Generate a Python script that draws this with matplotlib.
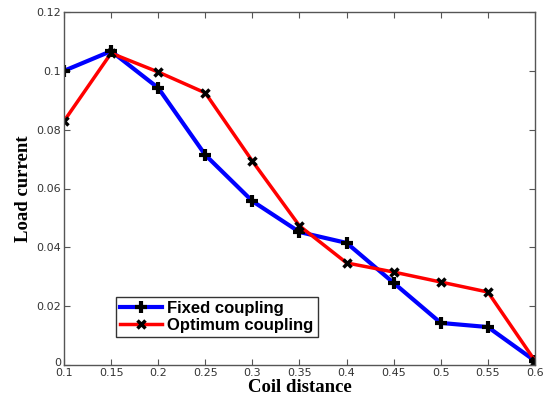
import matplotlib
matplotlib.use("Agg")
import matplotlib.pyplot as plt
import matplotlib.transforms as mtransforms

x = [0.1, 0.15, 0.2, 0.25, 0.3, 0.35, 0.4, 0.45, 0.5, 0.55, 0.6]
fixed = [0.1000, 0.1067, 0.0942, 0.0714, 0.0557, 0.0452, 0.0415, 0.0279, 0.0143, 0.0129, 0.0014]
optimum = [0.0829, 0.1060, 0.0996, 0.0925, 0.0693, 0.0473, 0.0347, 0.0316, 0.0282, 0.0248, 0.0014]
xticks = [0.1, 0.15, 0.2, 0.25, 0.3, 0.35, 0.4, 0.45, 0.5, 0.55, 0.6]
xticklabels = ["0.1", "0.15", "0.2", "0.25", "0.3", "0.35", "0.4", "0.45", "0.5", "0.55", "0.6"]
yticks = [0, 0.02, 0.04, 0.06, 0.08, 0.1, 0.12]
yticklabels = ["0", "0.02", "0.04", "0.06", "0.08", "0.1", "0.12"]

fig = plt.figure(figsize=(5.44, 4.0), dpi=100)
ax = fig.add_axes([0.1176, 0.0875, 0.8659, 0.8825])

ax.plot(x, fixed, color="#0000ff", lw=3, marker="+", ms=9, mew=3,
        mec="black", label="Fixed coupling")
ax.plot(x, optimum, color="#ff0000", lw=2.5, marker="x", ms=6, mew=2.5,
        mec="black", label="Optimum coupling")

ax.set_xlim(0.1, 0.6)
ax.set_ylim(0, 0.12)
ax.set_xticks(xticks)
ax.set_xticklabels(xticklabels)
ax.set_yticks(yticks)
ax.set_yticklabels(yticklabels)
ax.tick_params(direction="in", top=True, right=True, labelsize=8,
               labelcolor="#333333", color="#555555", length=4, pad=2)
for s in ax.spines.values():
    s.set_color("#555555")
    s.set_linewidth(1)

# nudge the y "0" label up slightly so it does not collide with the x "0.1"
lbl0 = ax.get_yticklabels()[0]
lbl0.set_transform(lbl0.get_transform() +
                   mtransforms.ScaledTranslation(0, 2 / 72, fig.dpi_scale_trans))

ax.set_xlabel("Coil distance", family="Liberation Serif", fontweight="bold",
              fontsize=13.5, labelpad=1)
ax.set_ylabel("Load current", family="Liberation Serif", fontweight="bold",
              fontsize=13.5, labelpad=3)

leg = ax.legend(loc="lower left", bbox_to_anchor=(0.111, 0.078),
                prop={"family": "Liberation Sans", "weight": "bold", "size": 12},
                fancybox=False, edgecolor="#333333", framealpha=1,
                handlelength=2.5, borderpad=0.25, labelspacing=0.15,
                handletextpad=0.3, borderaxespad=0)
leg.get_frame().set_linewidth(1)

fig.savefig("out.png", dpi=100)
